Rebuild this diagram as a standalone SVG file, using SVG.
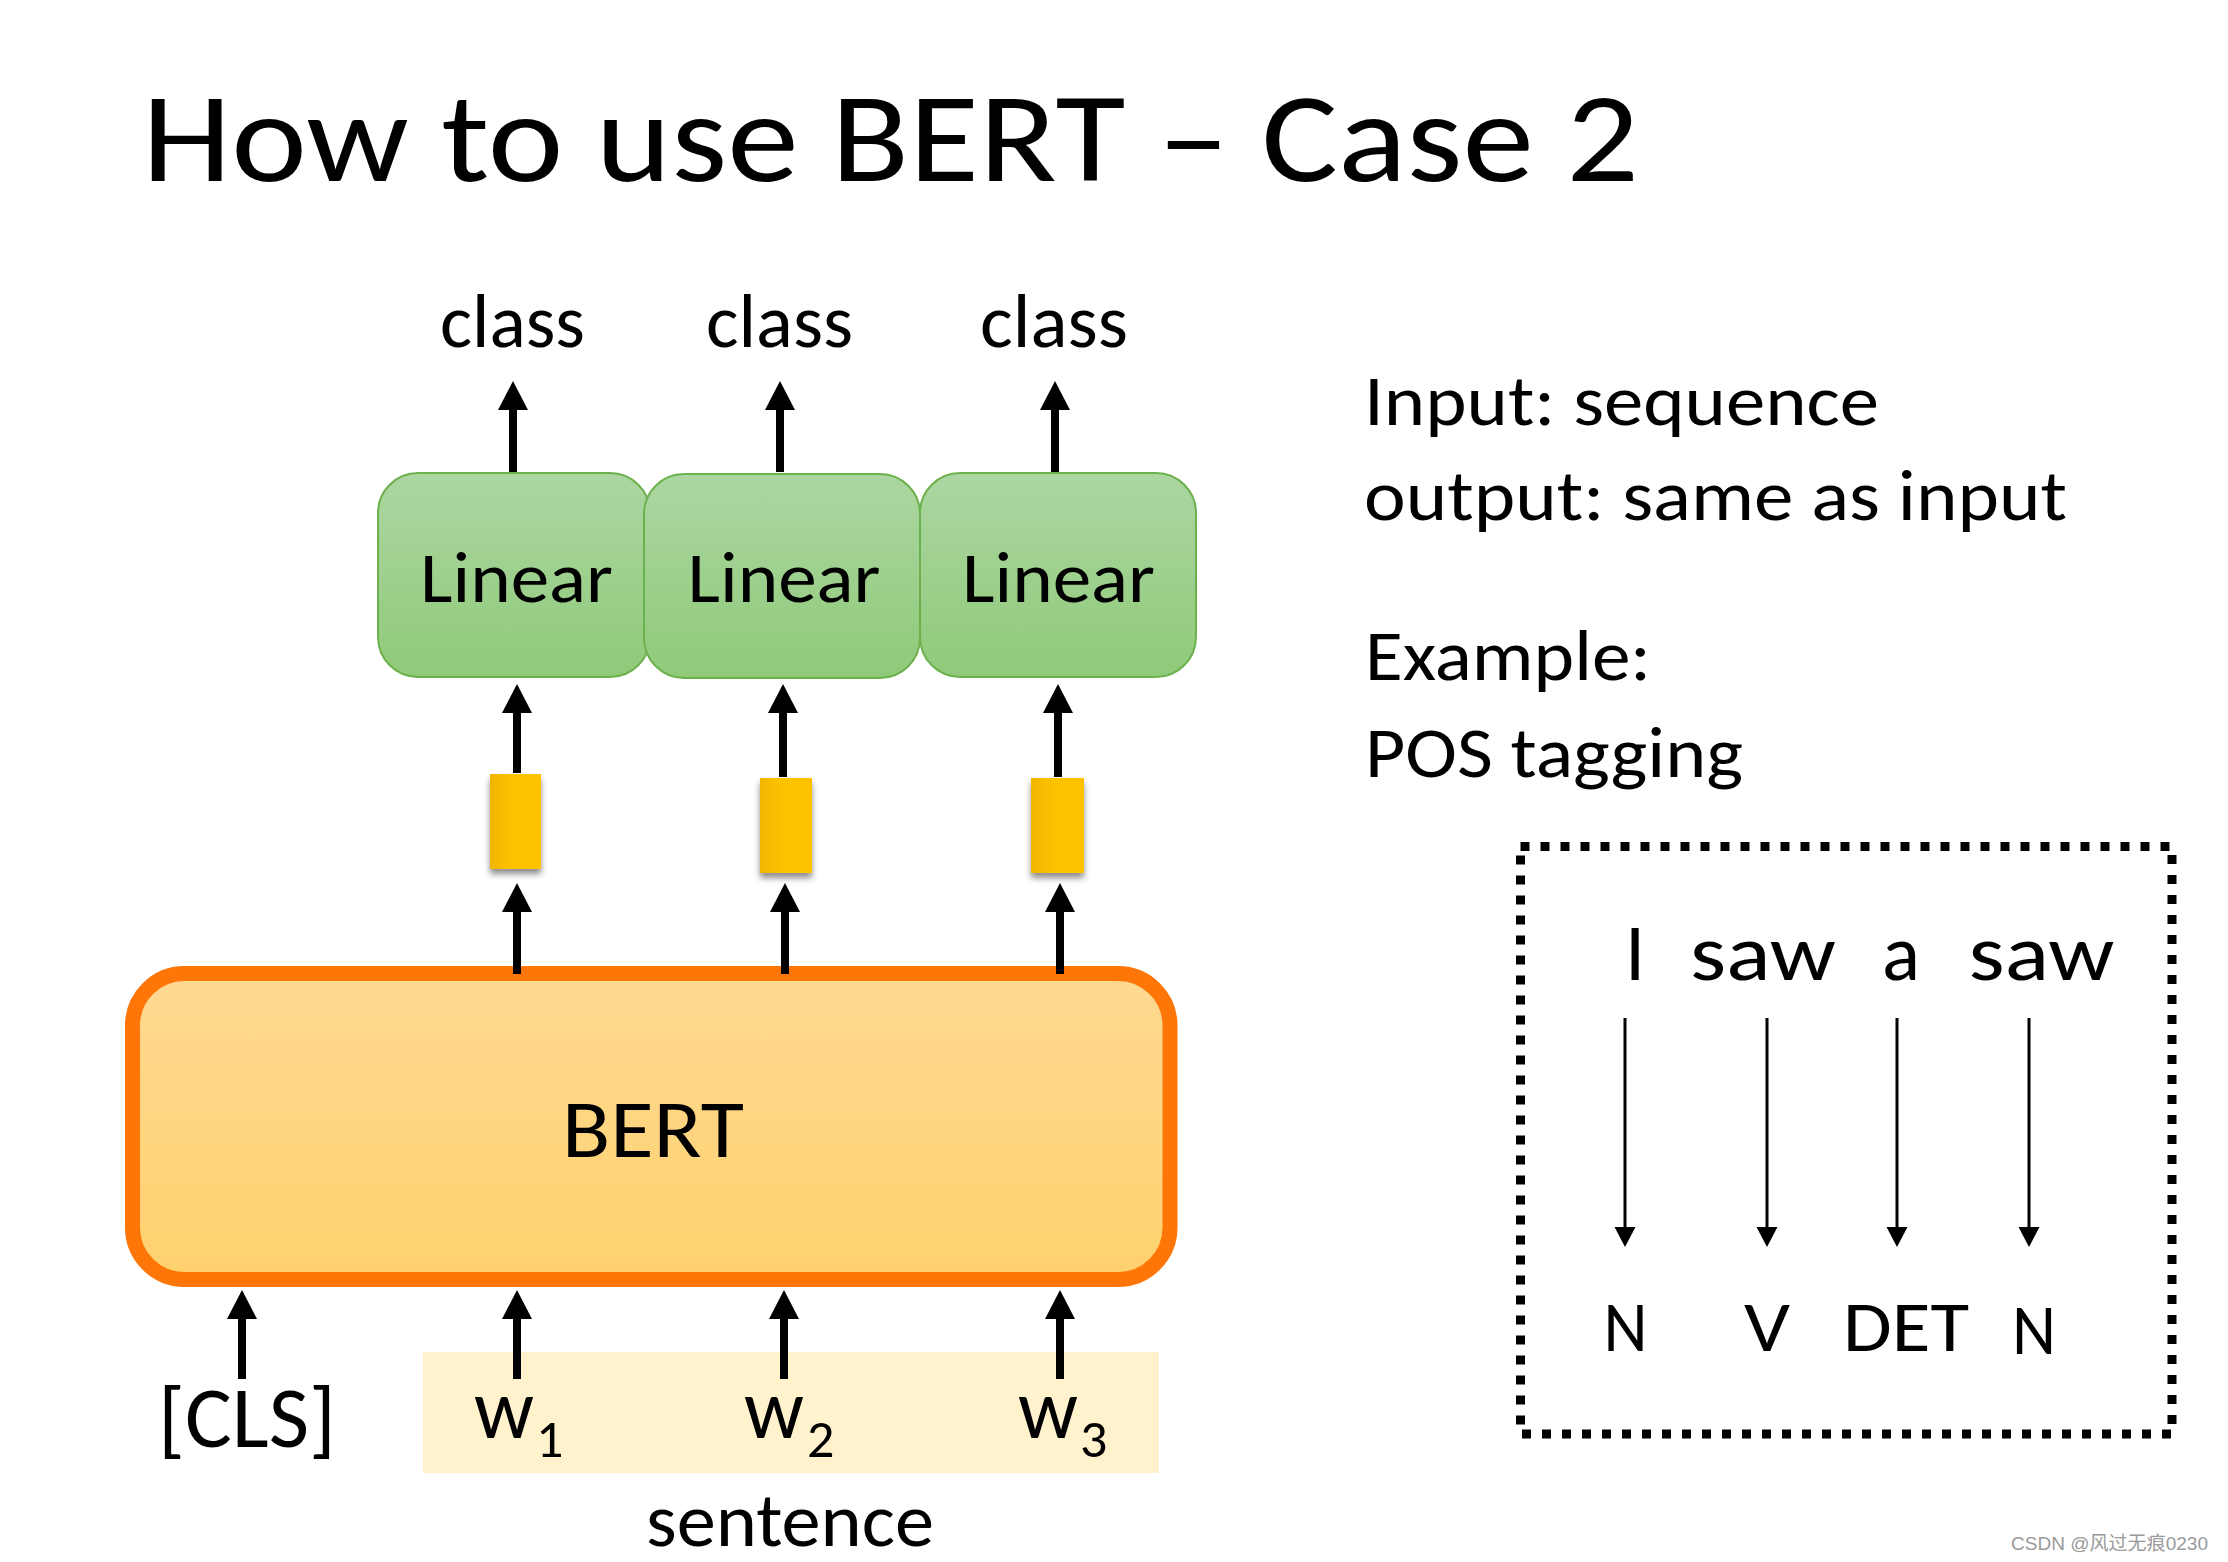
<svg xmlns="http://www.w3.org/2000/svg" width="2228" height="1562" viewBox="0 0 2228 1562">
<style>
.t{font-family:Carlito,Lato,"Liberation Sans",sans-serif;fill:#000}
.thick{stroke:#000;stroke-width:8;fill:none;marker-end:url(#ah)}
.thin{stroke:#000;stroke-width:3;fill:none;marker-end:url(#ahs)}
.lin{stroke:#6cb14d;stroke-width:2;fill:url(#gGreen)}
.vec{fill:url(#gYellow);filter:url(#sh)}
</style>
<defs>
<marker id="ah" markerUnits="userSpaceOnUse" markerWidth="30" markerHeight="30" refX="1" refY="15" orient="auto" viewBox="0 0 30 30">
<path d="M0,0 L29,15 L0,30 z" fill="#000"/>
</marker>
<marker id="ahs" markerUnits="userSpaceOnUse" markerWidth="22" markerHeight="22" refX="1" refY="10.5" orient="auto" viewBox="0 0 22 21">
<path d="M0,0 L20,10.5 L0,21 z" fill="#000"/>
</marker>
<linearGradient id="gGreen" x1="0" y1="0" x2="0" y2="1">
<stop offset="0" stop-color="#acd6a2"/>
<stop offset="1" stop-color="#8fca79"/>
</linearGradient>
<linearGradient id="gYellow" x1="0" y1="0" x2="1" y2="0">
<stop offset="0" stop-color="#f2b500"/>
<stop offset="0.45" stop-color="#ffc200"/>
<stop offset="1" stop-color="#ffc200"/>
</linearGradient>
<linearGradient id="gBert" x1="0" y1="0" x2="0" y2="1">
<stop offset="0" stop-color="#fed993"/>
<stop offset="1" stop-color="#ffd16d"/>
</linearGradient>
<filter id="sh" x="-30%" y="-20%" width="160%" height="150%">
<feDropShadow dx="0" dy="5" stdDeviation="3" flood-color="#000" flood-opacity="0.45"/>
</filter>
</defs>

<g id="title">
<text class="t" x="142" y="181" font-size="128" font-weight="300" textLength="1497" lengthAdjust="spacingAndGlyphs">How to use BERT – Case 2</text>
</g>

<g id="sentence-bg">
<rect x="423" y="1352" width="736" height="121" fill="#fff2cc"/>
</g>

<g id="bert">
<rect x="132.5" y="973.5" width="1037.5" height="306" rx="52" ry="52" fill="url(#gBert)" stroke="#fd7607" stroke-width="15"/>
<text class="t" x="653" y="1157" font-size="82" text-anchor="middle" textLength="182" lengthAdjust="spacingAndGlyphs">BERT</text>
</g>

<g id="linear1">
<rect class="lin" x="378" y="473" width="272" height="204" rx="40" ry="40"/>
<text class="t" x="516.5" y="602" font-size="72" text-anchor="middle" textLength="193" lengthAdjust="spacingAndGlyphs">Linear</text>
</g>
<g id="linear2">
<rect class="lin" x="644" y="474" width="276" height="204" rx="40" ry="40"/>
<text class="t" x="784" y="602" font-size="72" text-anchor="middle" textLength="193" lengthAdjust="spacingAndGlyphs">Linear</text>
</g>
<g id="linear3">
<rect class="lin" x="920" y="473" width="276" height="204" rx="40" ry="40"/>
<text class="t" x="1058.5" y="602" font-size="72" text-anchor="middle" textLength="193" lengthAdjust="spacingAndGlyphs">Linear</text>
</g>

<g id="vec1"><rect class="vec" x="490" y="774" width="51" height="95"/></g>
<g id="vec2"><rect class="vec" x="760" y="778" width="52" height="95"/></g>
<g id="vec3"><rect class="vec" x="1031" y="778" width="53" height="95"/></g>

<g id="class1"><text class="t" x="512.5" y="347" font-size="77" text-anchor="middle" textLength="145" lengthAdjust="spacingAndGlyphs">class</text></g>
<g id="class2"><text class="t" x="779.5" y="347" font-size="77" text-anchor="middle" textLength="147" lengthAdjust="spacingAndGlyphs">class</text></g>
<g id="class3"><text class="t" x="1054" y="347" font-size="77" text-anchor="middle" textLength="148" lengthAdjust="spacingAndGlyphs">class</text></g>

<g id="inputs">
<text class="t" x="158" y="1447" font-size="86" textLength="178" lengthAdjust="spacingAndGlyphs">[CLS]</text>
<text class="t" x="474" y="1438" font-size="86" textLength="60" lengthAdjust="spacingAndGlyphs">w</text>
<text class="t" x="536" y="1457" font-size="54">1</text>
<text class="t" x="744" y="1438" font-size="86" textLength="60" lengthAdjust="spacingAndGlyphs">w</text>
<text class="t" x="807" y="1457" font-size="54">2</text>
<text class="t" x="1018" y="1438" font-size="86" textLength="60" lengthAdjust="spacingAndGlyphs">w</text>
<text class="t" x="1080" y="1457" font-size="54">3</text>
<text class="t" x="646" y="1546" font-size="76" textLength="288" lengthAdjust="spacingAndGlyphs">sentence</text>
</g>

<g id="description">
<text class="t" x="1364" y="425" font-size="72" textLength="515" lengthAdjust="spacingAndGlyphs">Input: sequence</text>
<text class="t" x="1364" y="520" font-size="72" textLength="703" lengthAdjust="spacingAndGlyphs">output: same as input</text>
<text class="t" x="1365" y="680" font-size="72" textLength="286" lengthAdjust="spacingAndGlyphs">Example:</text>
<text class="t" x="1365" y="777" font-size="72" textLength="378" lengthAdjust="spacingAndGlyphs">POS tagging</text>
</g>

<g id="example-box">
<rect x="1520.5" y="846.5" width="651.5" height="587.5" fill="none" stroke="#000" stroke-width="9" stroke-dasharray="9 11"/>
<text class="t" x="1635" y="980" font-size="80" text-anchor="middle">I</text>
<text class="t" x="1763" y="980" font-size="80" text-anchor="middle" textLength="146" lengthAdjust="spacingAndGlyphs">saw</text>
<text class="t" x="1901" y="980" font-size="80" text-anchor="middle" textLength="38" lengthAdjust="spacingAndGlyphs">a</text>
<text class="t" x="2041.5" y="980" font-size="80" text-anchor="middle" textLength="146" lengthAdjust="spacingAndGlyphs">saw</text>
<text class="t" x="1625.5" y="1351" font-size="72" text-anchor="middle" textLength="44" lengthAdjust="spacingAndGlyphs">N</text>
<text class="t" x="1767" y="1351" font-size="72" text-anchor="middle" textLength="46" lengthAdjust="spacingAndGlyphs">V</text>
<text class="t" x="1906" y="1351" font-size="72" text-anchor="middle" textLength="126" lengthAdjust="spacingAndGlyphs">DET</text>
<text class="t" x="2034" y="1354" font-size="72" text-anchor="middle" textLength="44" lengthAdjust="spacingAndGlyphs">N</text>
</g>

<g id="connectors">
<path class="thick" d="M513,472 V409"/>
<path class="thick" d="M780,472 V409"/>
<path class="thick" d="M1055,472 V409"/>
<path class="thick" d="M517,773 V712"/>
<path class="thick" d="M783,777 V712"/>
<path class="thick" d="M1058,777 V712"/>
<path class="thick" d="M517,974 V911"/>
<path class="thick" d="M785,974 V911"/>
<path class="thick" d="M1060,974 V911"/>
<path class="thick" d="M242,1379 V1318"/>
<path class="thick" d="M517,1379 V1318"/>
<path class="thick" d="M784,1379 V1318"/>
<path class="thick" d="M1060,1379 V1318"/>
<path class="thin" d="M1625,1018 V1228"/>
<path class="thin" d="M1767,1018 V1228"/>
<path class="thin" d="M1897,1018 V1228"/>
<path class="thin" d="M2029,1018 V1228"/>
</g>

<g id="watermark">
<text x="2011" y="1550" font-size="19" fill="#9a9a9a" stroke="#ffffff" stroke-width="0.6" paint-order="stroke" font-family="'Liberation Sans','Noto Sans CJK SC',sans-serif" textLength="197" lengthAdjust="spacingAndGlyphs">CSDN @风过无痕0230</text>
</g>
</svg>
